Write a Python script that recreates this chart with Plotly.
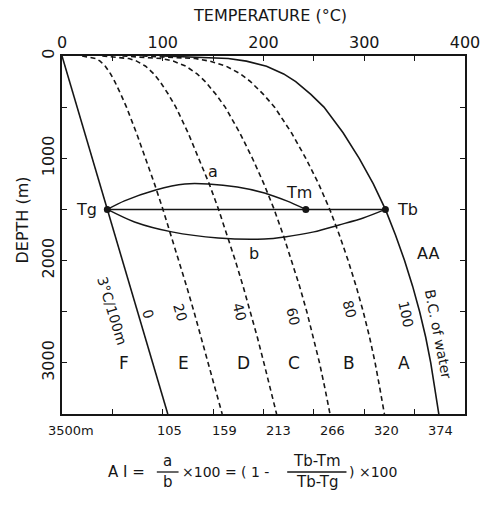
import plotly.graph_objects as go

# ---------------- data ----------------
depth = [0, 25, 50, 100, 175, 250, 375, 500, 750, 1000, 1250, 1500, 1750, 2000, 2250, 2500, 2750, 3000, 3250, 3500]
bc_water = [100, 165, 183, 203, 220, 232, 247, 260, 279, 295, 309, 321, 331, 340, 348, 355, 361, 366, 370, 374]
pct20 = [20, 33.6, 37.8, 43, 48.2, 52.4, 58.4, 64, 73.8, 83, 91.8, 100.2, 108.2, 116, 123.6, 131, 138.2, 145.2, 152, 159]
pct40 = [40, 66.5, 74.1, 83, 91.2, 97.3, 105.6, 113, 125.1, 136, 146.1, 155.4, 163.9, 172, 179.7, 187, 193.9, 200.4, 206.5, 213]
pct60 = [60, 99.3, 110.4, 123, 134.1, 142.2, 152.7, 162, 176.4, 189, 200.4, 210.6, 219.6, 228, 235.8, 243, 249.6, 255.6, 261, 266]
pct80 = [80, 132.2, 146.7, 163, 177.1, 187.1, 199.9, 211, 227.7, 242, 254.7, 265.8, 275.3, 284, 291.9, 299, 305.3, 310.8, 315.5, 320]

gradient_depth = [0, 3500]
gradient_temp = [0, 105]

# horizontal line Tg - Tb and the two arcs a (upper) and b (lower)
level_depth = 1500
Tg, Tm, Tb = 45, 242, 321
arc_a_temp = [45, 62, 93, 122, 145, 174, 201, 223, 242]
arc_a_depth = [1500, 1417, 1310, 1251, 1251, 1281, 1339, 1417, 1500]
arc_b_temp = [45, 72, 109, 155, 201, 221, 250, 275, 299, 321]
arc_b_depth = [1500, 1623, 1720, 1779, 1789, 1769, 1720, 1652, 1584, 1500]

top_ticks = list(range(0, 401, 50))
top_labels = [str(v) if v % 100 == 0 else "" for v in top_ticks]
depth_ticks = list(range(0, 3501, 500))
depth_labels = [str(v) if v % 1000 == 0 else "" for v in depth_ticks]

bottom_label_vals = [gradient_temp[-1], pct20[-1], pct40[-1], pct60[-1], pct80[-1], bc_water[-1]]
curve_names = ["0", "20", "40", "60", "80", "100"]
zones = ["F", "E", "D", "C", "B", "A"]
zone_temp = [62, 121, 180, 230, 285, 339]
zone_depth = 3000

ink = "#161616"
FONT = "DejaVu Sans"

fig = go.Figure()


def add_line(x, y, dash="solid", shape="linear", width=1.6):
    fig.add_trace(go.Scatter(x=x, y=y, mode="lines",
                             line=dict(color=ink, width=width, dash=dash, shape=shape, smoothing=0.8),
                             hoverinfo="skip", showlegend=False))


add_line(gradient_temp, gradient_depth)
for series in (pct20, pct40, pct60, pct80):
    add_line(series, depth, dash="5px,3.5px")
add_line(bc_water, depth)
add_line([Tg, Tb], [level_depth, level_depth], width=1.4)
add_line(arc_a_temp, arc_a_depth, shape="spline", width=1.4)
add_line(arc_b_temp, arc_b_depth, shape="spline", width=1.4)
fig.add_trace(go.Scatter(x=[Tg, Tm, Tb], y=[level_depth] * 3, mode="markers",
                         marker=dict(color=ink, size=7), hoverinfo="skip", showlegend=False))

# ---------------- layout helpers ----------------
L, R, T, B = 62, 470, 56, 414


def px(xp):
    return (xp - L) / (R - L)


def py(yp):
    return (B - yp) / (B - T)


ann = []


def text(x, y, s, size=15, angle=0, xref="x", yref="y", xanchor="center", yanchor="middle", yshift=0):
    ann.append(dict(x=x, y=y, text=s, xref=xref, yref=yref, showarrow=False, textangle=angle,
                    font=dict(family=FONT, size=size, color=ink), xanchor=xanchor, yanchor=yanchor,
                    yshift=yshift))


# point labels
text(24.5, 1505, "Tg", 16)
text(235, 1330, "Tm", 16)
text(343, 1505, "Tb", 16)
text(150, 1134, "a", 16)
text(191, 1926, "b", 16)
text(363, 1926, "AA", 16)
for z, t in zip(zones, zone_temp):
    text(t, zone_depth, z, 17)

# curve labels (rotated)
text(50, 2490, "3°C/100m", 14, angle=73)
text(85, 2527, curve_names[0], 14, angle=73)
text(117, 2507, curve_names[1], 14, angle=74)
text(176, 2507, curve_names[2], 14, angle=75)
text(229, 2546, curve_names[3], 14, angle=76)
text(285, 2478, curve_names[4], 14, angle=76)
text(341, 2527, curve_names[5], 14, angle=78)
text(374, 2723, "B.C. of water", 14, angle=79)

# bottom labels
text(9, 3500, "3500m", 13, yanchor="top", yshift=-7)
for v in bottom_label_vals:
    text(v + 2, 3500, str(round(v)), 13, yanchor="top", yshift=-7)

# titles
text(px(273), py(16), "TEMPERATURE (°C)", 16, xref="paper", yref="paper")
text(px(22), py(220), "DEPTH (m)", 16, angle=-90, xref="paper", yref="paper")

# formula
text(px(107), py(472), "A I =", 15, xref="paper", yref="paper", xanchor="left")
text(px(169), py(461), "a", 15, xref="paper", yref="paper")
text(px(169), py(482), "b", 15, xref="paper", yref="paper")
text(px(181), py(472), "×100 = ( 1 -", 14, xref="paper", yref="paper", xanchor="left")
text(px(320), py(461), "Tb-Tm", 15, xref="paper", yref="paper")
text(px(320), py(482), "Tb-Tg", 15, xref="paper", yref="paper")
text(px(351), py(472), ") ×100", 14, xref="paper", yref="paper", xanchor="left")

shapes = [
    dict(type="line", xref="paper", yref="paper", x0=px(158), x1=px(180), y0=py(472), y1=py(472),
         line=dict(color=ink, width=1.3)),
    dict(type="line", xref="paper", yref="paper", x0=px(290), x1=px(350), y0=py(472), y1=py(472),
         line=dict(color=ink, width=1.3)),
]

fig.update_layout(
    width=492, height=508,
    margin=dict(l=L, r=492 - R, t=T, b=508 - B),
    paper_bgcolor="white", plot_bgcolor="white",
    showlegend=False,
    font=dict(family=FONT, color=ink),
    annotations=ann, shapes=shapes,
)
fig.update_xaxes(range=[0, 400], side="top", tickmode="array", tickvals=top_ticks, ticktext=top_labels,
                 ticks="inside", ticklen=5, tickwidth=1.3, tickcolor=ink,
                 showline=True, linecolor=ink, linewidth=1.6, mirror="allticks",
                 showgrid=False, zeroline=False, tickfont=dict(family=FONT, size=16, color=ink))
fig.update_yaxes(range=[3500, 0], tickmode="array", tickvals=depth_ticks, ticktext=depth_labels,
                 tickangle=-90, ticks="inside", ticklen=5, tickwidth=1.3, tickcolor=ink,
                 showline=True, linecolor=ink, linewidth=1.6, mirror="allticks",
                 showgrid=False, zeroline=False, tickfont=dict(family=FONT, size=16, color=ink))

fig.write_html("out.html")
